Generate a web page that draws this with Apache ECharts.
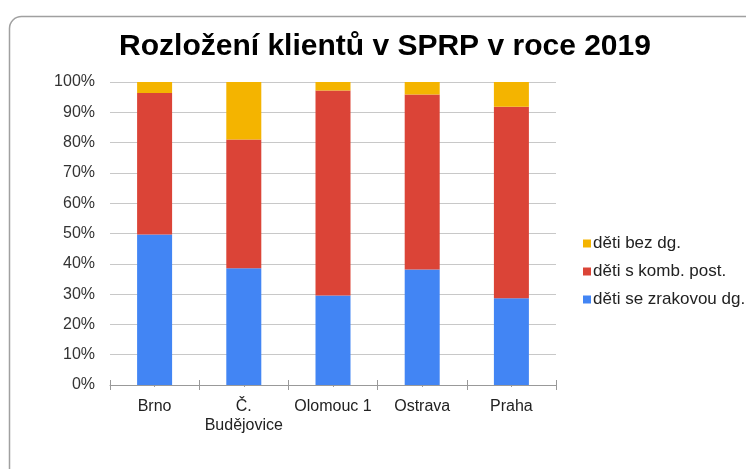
<!DOCTYPE html>
<html>
<head>
<meta charset="utf-8">
<script src="https://cdn.jsdelivr.net/npm/echarts@6/dist/echarts.min.js"></script>
<style>html,body{margin:0;padding:0;background:#fff}#c{width:746px;height:469px}</style>
</head>
<body>
<div id="c"></div>
<script>
var categories = ['Brno', 'Č.\nBudějovice', 'Olomouc 1', 'Ostrava', 'Praha'];
var seriesNames = ['děti se zrakovou dg.', 'děti s komb. post.', 'děti bez dg.'];
var zrakovou = [49.7, 38.5, 29.5, 38.1, 28.6];
var kombPost = [46.7, 42.5, 67.7, 57.8, 63.2];
var bezDg = [3.6, 19.0, 2.8, 4.1, 8.2];
var colors = ['#4285F4', '#DB4437', '#F4B400'];

var chart = echarts.init(document.getElementById('c'));
var font = 'Arial, "Liberation Sans", sans-serif';
var hiddenAxis = function (inside, len, align) {
  return {
    type: 'category', data: categories, position: 'bottom', gridIndex: 0,
    axisLine: { show: false }, axisLabel: { show: false }, splitLine: { show: false },
    axisTick: { show: true, inside: inside, length: len, alignWithLabel: align, interval: 0, lineStyle: { color: '#999' } }
  };
};
chart.setOption({
  animation: false,
  textStyle: { fontFamily: font },
  graphic: [{
    type: 'rect', left: 7, top: 14, silent: true,
    shape: { width: 760, height: 480, r: 12 },
    style: { fill: 'none', stroke: '#a0a0a0', lineWidth: 1.5 }
  }],
  title: {
    text: 'Rozložení klientů v SPRP v roce 2019',
    left: 380, top: 27, textAlign: 'center',
    textStyle: { fontSize: 30, fontWeight: 'bold', color: '#000', fontFamily: font }
  },
  legend: {
    orient: 'vertical', left: 578, top: 230,
    itemWidth: 8, itemHeight: 8, itemGap: 11,
    icon: 'rect',
    data: ['děti bez dg.', 'děti s komb. post.', 'děti se zrakovou dg.'],
    textStyle: { fontSize: 17, color: '#222', fontFamily: font, padding: [0, 0, 0, -3] }
  },
  grid: { left: 110, right: 190, top: 82, bottom: 84, containLabel: false },
  xAxis: [{
    type: 'category', data: categories, position: 'bottom',
    axisLine: { show: true, lineStyle: { color: '#999', width: 1 } },
    axisTick: { show: true, length: 5, interval: 0, lineStyle: { color: '#999' } },
    axisLabel: { interval: 0, fontSize: 16, color: '#222', margin: 12, lineHeight: 19, fontFamily: font, hideOverlap: false }
  }, hiddenAxis(true, 5, false), hiddenAxis(true, 2, true), hiddenAxis(false, 2, true)],
  yAxis: {
    type: 'value', min: 0, max: 100, interval: 10,
    axisLine: { show: false }, axisTick: { show: false },
    axisLabel: { formatter: '{value}%', fontSize: 16, color: '#333', margin: 15, fontFamily: font },
    splitLine: { lineStyle: { color: '#c8c8c8', width: 1 } }
  },
  series: [
    { name: seriesNames[0], type: 'bar', stack: 's', data: zrakovou, barWidth: 35, itemStyle: { color: colors[0] } },
    { name: seriesNames[1], type: 'bar', stack: 's', data: kombPost, barWidth: 35, itemStyle: { color: colors[1] } },
    { name: seriesNames[2], type: 'bar', stack: 's', data: bezDg, barWidth: 35, itemStyle: { color: colors[2] } }
  ]
});
</script>
</body>
</html>
